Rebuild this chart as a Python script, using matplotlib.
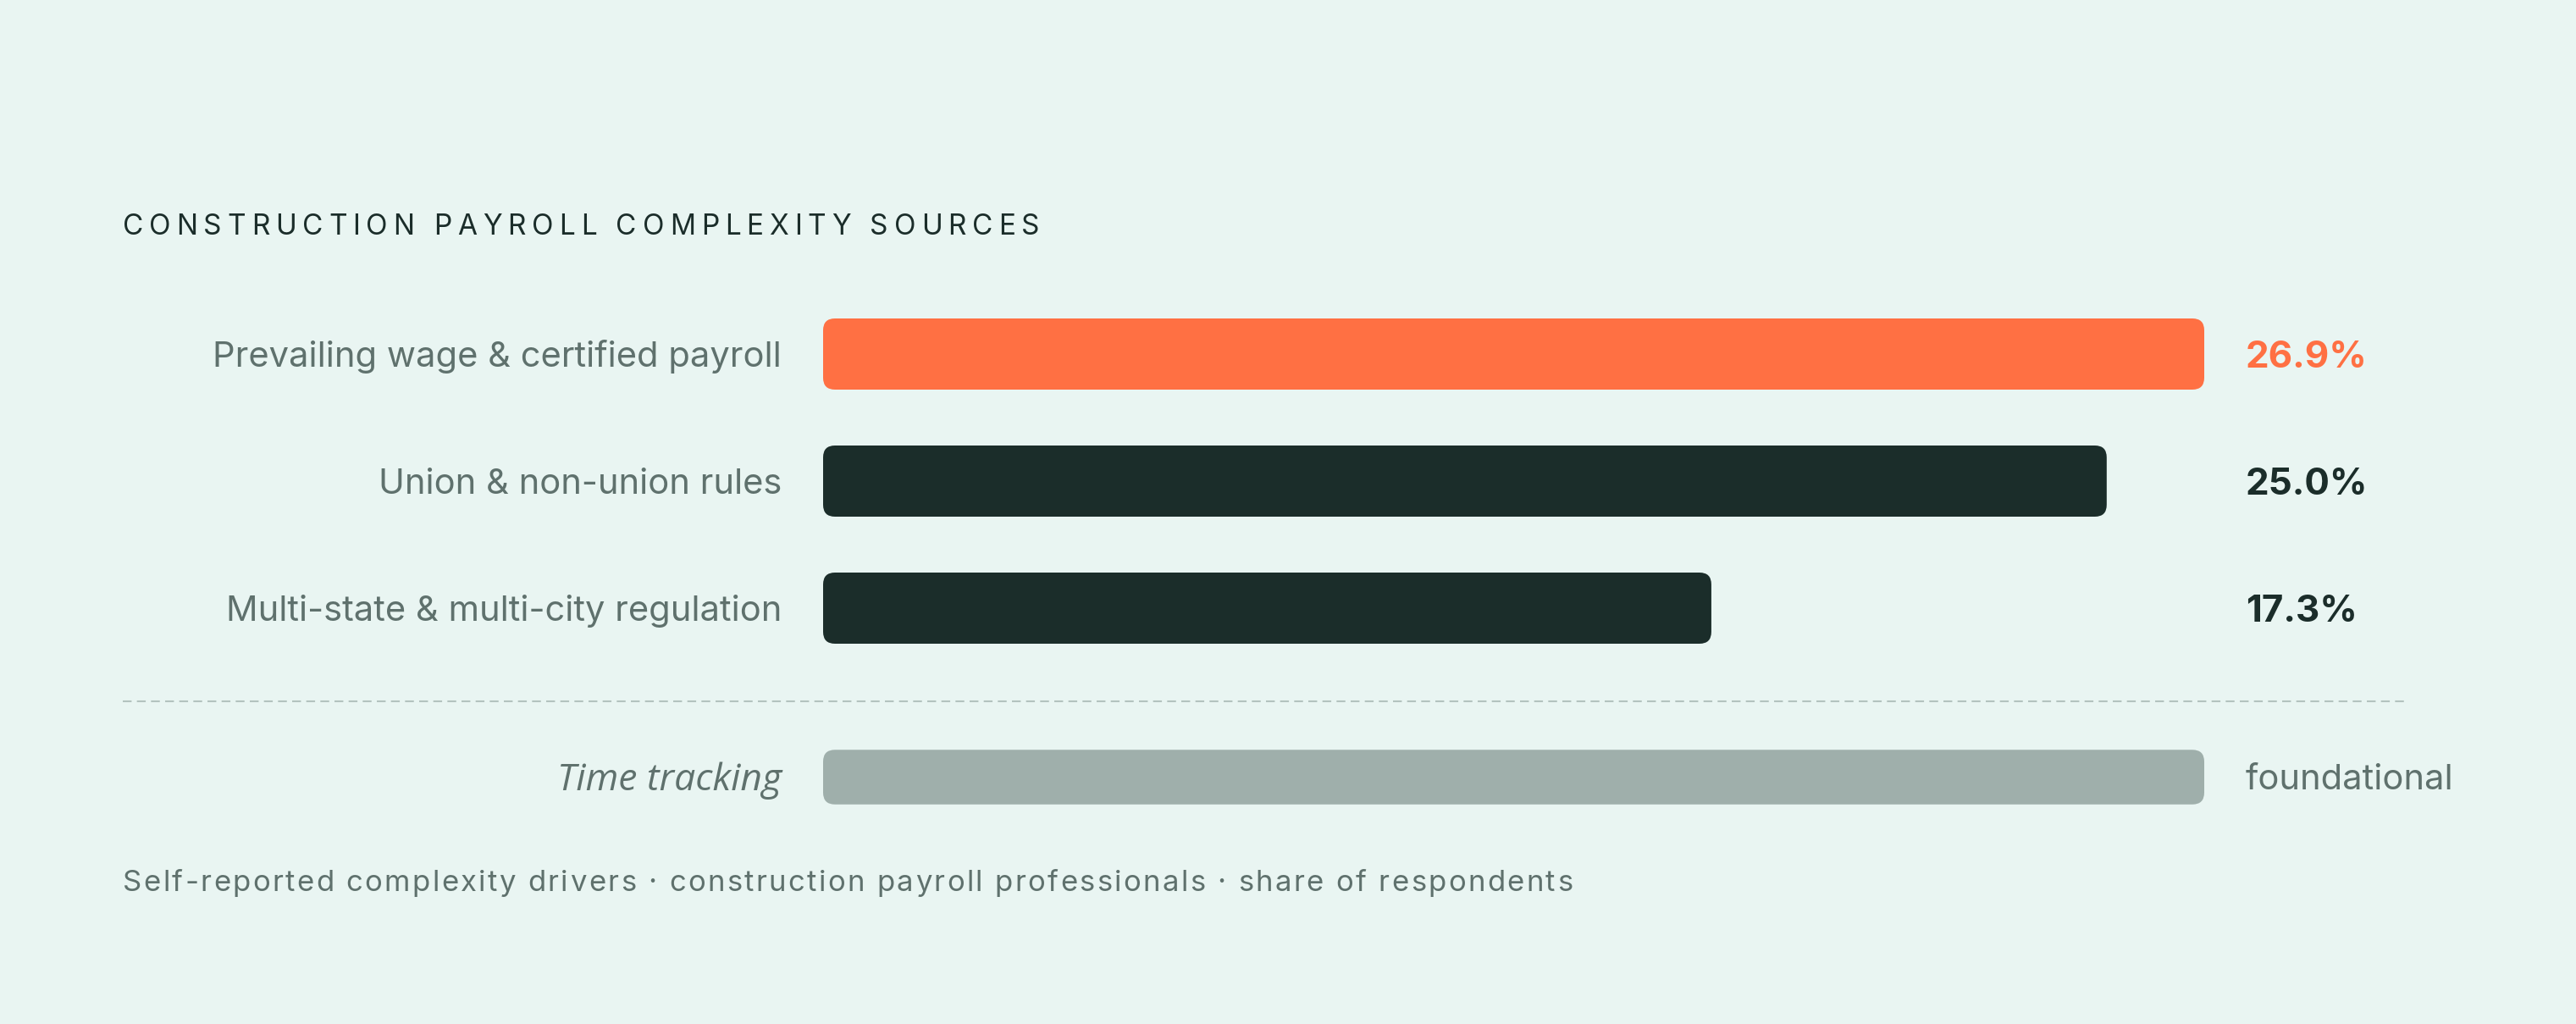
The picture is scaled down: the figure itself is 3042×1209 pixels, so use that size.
import matplotlib.pyplot as plt
from matplotlib.patches import FancyBboxPatch
from matplotlib.lines import Line2D
from matplotlib.font_manager import FontProperties

# data
categories = ["Prevailing wage & certified payroll",
              "Union & non-union rules",
              "Multi-state & multi-city regulation"]
values = [26.9, 25.0, 17.3]
value_labels = ["26.9%", "25.0%", "17.3%"]
bar_colors = ["#FF7043", "#1B2D2A", "#1B2D2A"]
base_category = "Time tracking"
base_label = "foundational"
title = "CONSTRUCTION PAYROLL COMPLEXITY SOURCES"
note = "Self-reported complexity drivers \u00b7 construction payroll professionals \u00b7 share of respondents"

BG = "#E9F5F2"
MUTED = "#5F716D"
FONT = "Inter"

W, H = 3042, 1209
fig = plt.figure(figsize=(W / 200, H / 200), dpi=200, facecolor=BG)

# axes: bar track from px 972 to 2603, rows 150 px apart, first row centre at px 418
track_max = max(values)
ax = fig.add_axes([972 / W, 0, (2603 - 972) / W, 1])
ax.set_facecolor("none")
ax.set_xlim(0, track_max)
ax.set_ylim((H - 418) / 150, -418 / 150)
ax.axis("off")

rows = list(range(len(categories)))
base_row = 3.33

px_x = (2603 - 972) / track_max   # px per x unit
px_y = 150                        # px per y unit
radius = 14 / px_x


def rounded(bars, color):
    for b in bars:
        b.set_visible(False)
        p = FancyBboxPatch((b.get_x(), b.get_y()), b.get_width(), b.get_height(),
                           boxstyle=f"round,pad=0,rounding_size={radius}",
                           mutation_aspect=px_x / px_y,
                           fc=color, ec="none")
        ax.add_patch(p)


for r, v, c in zip(rows, values, bar_colors):
    rounded(ax.barh(r, v, height=0.56), c)
rounded(ax.barh(base_row, track_max, height=0.43), "#9FAFAB")

off = 49 / 200 * 72  # gap between track and text, points

for r, cat, lab, c in zip(rows, categories, value_labels, bar_colors):
    ax.annotate(cat, (0, r), xytext=(-off, -5.4), textcoords="offset points",
                ha="right", va="baseline", fontsize=15, color=MUTED, family=FONT)
    ax.annotate(lab, (track_max, r), xytext=(off, -5.8), textcoords="offset points",
                ha="left", va="baseline", fontsize=15.8, fontweight="bold", color=c, family=FONT)

ax.annotate(base_category, (0, base_row), xytext=(-off, -5.4), textcoords="offset points",
            ha="right", va="baseline", fontsize=16, color=MUTED, style="italic", family="Open Sans")
ax.annotate(base_label, (track_max, base_row), xytext=(off, -5.4), textcoords="offset points",
            ha="left", va="baseline", fontsize=15, color=MUTED, family=FONT)

# dashed separator
fig.add_artist(Line2D([145 / W, 2844 / W], [1 - 828 / H] * 2, transform=fig.transFigure,
                      color="#B3C3BF", lw=0.75, dashes=(5, 3)))


def spaced_text(x, y, s, spacing, size, color):
    # draw text char by char with extra tracking (spacing in px)
    r = fig.canvas.get_renderer()
    prop = FontProperties(family=FONT, size=size)
    ref = r.get_text_width_height_descent("x", prop, ismath=False)[0]
    for i, ch in enumerate(s):
        w = r.get_text_width_height_descent(s[:i] + "x", prop, ismath=False)[0] - ref
        fig.text(x + (w + i * spacing) / W, y, ch, fontproperties=prop, color=color,
                 ha="left", va="baseline")


spaced_text(145 / W, 1 - 277 / H, title, 6.8, 12, "#1B2D2A")
spaced_text(145 / W, 1 - 1052 / H, note, 2.35, 12.5, MUTED)

fig.savefig("out.png", dpi=200, facecolor=BG)
